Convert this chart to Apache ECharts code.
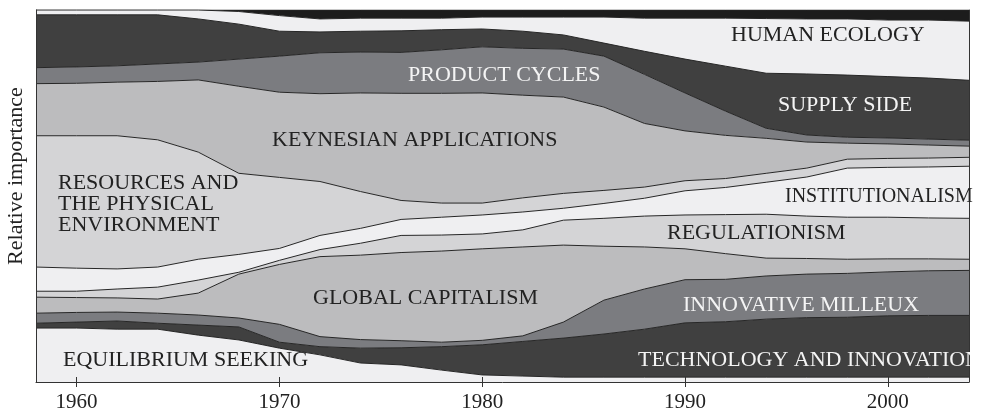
<!DOCTYPE html>
<html>
<head>
<meta charset="utf-8">
<title>Relative importance</title>
<script src="https://cdn.jsdelivr.net/npm/echarts@6/dist/echarts.min.js"></script>
<style>
  html, body { margin: 0; padding: 0; background: #fff; }
  #main { width: 991px; height: 413px; }
</style>
</head>
<body>
<div id="main"></div>
<script>
// 年份（横轴，每两年一个点）
const years = ['1958', '1960', '1962', '1964', '1966', '1968', '1970', '1972', '1974', '1976', '1978', '1980',
  '1982', '1984', '1986', '1988', '1990', '1992', '1994', '1996', '1998', '2000', '2002', '2004'];
const tickYears = ['1960', '1970', '1980', '1990', '2000'];

// 各层的相对重要性（%），自下而上
const equilibriumSeeking = [14.5, 14.5, 14.2, 14.2, 12.6, 11.3, 9.1, 7.3, 5.1, 4.6, 3.2, 1.9, 1.6, 1.3, 1.3, 1.3, 1.3, 1.3, 1.3, 1.3, 1.3, 1.3, 1.3, 1.3];
const technologyInnovation = [1.3, 1.6, 2.2, 1.6, 2.7, 3.5, 1.6, 2.2, 4.0, 4.6, 6.3, 8.1, 9.3, 10.5, 11.6, 12.9, 14.6, 14.9, 15.6, 16.0, 16.1, 16.5, 16.6, 16.6];
const innovativeMilieux = [2.7, 2.6, 2.4, 2.7, 2.7, 2.4, 4.8, 2.7, 2.3, 1.9, 1.2, 1.2, 1.5, 4.3, 9.1, 10.8, 11.6, 11.4, 11.6, 11.7, 11.8, 11.8, 12.0, 12.1];
const globalCapitalism = [4.3, 4.0, 3.8, 3.8, 5.9, 11.8, 16.1, 21.5, 22.7, 23.7, 24.5, 24.6, 23.9, 20.7, 14.5, 11.3, 8.3, 6.9, 4.8, 4.2, 3.8, 3.5, 3.2, 3.0];
const regulationism = [1.6, 1.7, 2.4, 3.2, 3.5, 0.5, 1.1, 1.9, 3.2, 4.6, 4.3, 4.0, 4.6, 6.7, 7.5, 8.3, 9.1, 10.5, 11.8, 11.4, 11.3, 11.2, 11.0, 11.0];
const institutionalism = [6.5, 6.2, 5.4, 5.4, 5.6, 4.8, 3.2, 3.8, 4.0, 4.3, 4.8, 5.1, 4.8, 3.2, 4.0, 4.8, 6.5, 7.3, 8.6, 10.5, 13.2, 13.4, 13.7, 14.0];
const resources = [35.3, 35.6, 35.8, 34.2, 28.8, 21.8, 19.1, 14.5, 9.9, 5.1, 3.8, 3.2, 3.8, 4.0, 3.5, 3.0, 2.7, 2.4, 2.4, 2.4, 2.4, 2.4, 2.4, 2.4];
const keynesian = [14.0, 14.1, 14.4, 15.7, 19.4, 23.4, 22.9, 23.6, 26.5, 28.8, 29.5, 29.6, 27.6, 25.9, 22.4, 17.1, 13.4, 11.6, 9.4, 7.0, 4.3, 3.9, 3.5, 3.0];
const productCycles = [4.3, 4.4, 4.4, 4.7, 4.8, 7.3, 9.7, 11.0, 11.0, 11.0, 11.7, 12.4, 12.6, 12.9, 13.7, 13.2, 10.2, 6.5, 2.7, 1.9, 1.6, 1.6, 1.6, 1.6];
const supplySide = [14.2, 14.0, 13.7, 13.2, 11.6, 9.4, 6.7, 5.6, 5.6, 5.8, 5.4, 4.8, 4.6, 3.8, 3.5, 6.2, 9.1, 12.1, 14.8, 16.4, 16.7, 16.5, 16.4, 16.1];
const humanEcology = [1.3, 1.3, 1.3, 1.3, 2.4, 3.4, 4.2, 3.5, 3.5, 3.4, 3.1, 3.2, 3.8, 4.8, 7.0, 8.9, 11.0, 12.9, 14.7, 14.8, 15.1, 15.2, 15.6, 15.9];
const topBand = [0, 0, 0, 0, 0, 0.4, 1.5, 2.4, 2.2, 2.2, 2.2, 1.9, 1.9, 1.9, 1.9, 2.2, 2.2, 2.2, 2.3, 2.4, 2.4, 2.7, 2.7, 3.0];

const DARK = '#404040';
const MID = '#7b7c80';
const LIGHTMID = '#bcbcbe';
const LIGHT = '#d4d4d6';
const PALE = '#efeff1';

// 图层（堆叠顺序自下而上）
const layers = [
  { name: 'EQUILIBRIUM SEEKING', data: equilibriumSeeking, color: PALE },
  { name: 'TECHNOLOGY AND INNOVATION', data: technologyInnovation, color: DARK },
  { name: 'INNOVATIVE MILLEUX', data: innovativeMilieux, color: MID },
  { name: 'GLOBAL CAPITALISM', data: globalCapitalism, color: LIGHTMID },
  { name: 'REGULATIONISM', data: regulationism, color: LIGHT },
  { name: 'INSTITUTIONALISM', data: institutionalism, color: PALE },
  { name: 'RESOURCES AND THE PHYSICAL ENVIRONMENT', data: resources, color: LIGHT },
  { name: 'KEYNESIAN APPLICATIONS', data: keynesian, color: LIGHTMID },
  { name: 'PRODUCT CYCLES', data: productCycles, color: MID },
  { name: 'SUPPLY SIDE', data: supplySide, color: DARK },
  { name: 'HUMAN ECOLOGY', data: humanEcology, color: PALE },
  { name: 'top', data: topBand, color: '#1c1c1c' }
];

// 图中文字标注（像素位置）
const areaLabels = [
  { text: 'HUMAN ECOLOGY', x: 731, y: 35, fill: '#222' },
  { text: 'PRODUCT CYCLES', x: 408, y: 75, fill: '#f4f4f4' },
  { text: 'SUPPLY SIDE', x: 778, y: 105, fill: '#f4f4f4' },
  { text: 'KEYNESIAN APPLICATIONS', x: 272, y: 140, fill: '#222' },
  { text: 'RESOURCES AND\nTHE PHYSICAL\nENVIRONMENT', x: 58, y: 204, fill: '#222' },
  { text: 'INSTITUTIONALISM', x: 785, y: 197, fill: '#222', size: 20 },
  { text: 'REGULATIONISM', x: 667, y: 233, fill: '#222' },
  { text: 'GLOBAL CAPITALISM', x: 313, y: 298, fill: '#222' },
  { text: 'INNOVATIVE MILLEUX', x: 683, y: 305, fill: '#f4f4f4' },
  { text: 'TECHNOLOGY AND INNOVATION', x: 638, y: 360, fill: '#f4f4f4' },
  { text: 'EQUILIBRIUM SEEKING', x: 63, y: 360, fill: '#222' }
];

const FONT = '"Liberation Serif", "Times New Roman", serif';
const isTickYear = (index, value) => tickYears.indexOf(value) !== -1;
const chart = echarts.init(document.getElementById('main'));

const seriesArr = layers.map((item, index) => {
  return {
    name: item.name,
    type: 'line',
    stack: 'total',
    symbol: 'none',
    smooth: false,
    z: 30 - index, // 下层的边线画在上层面积之上
    lineStyle: { width: 1, color: '#262626' },
    areaStyle: { color: item.color, opacity: 1 },
    emphasis: { disabled: true },
    data: item.data
  };
});

const axisLineStyle = { lineStyle: { color: '#333', width: 1 } };

// 文字标注
const labelGraphics = areaLabels.map(item => ({
  type: 'text',
  x: item.x,
  y: item.y,
  z: 100,
  silent: true,
  style: {
    text: item.text,
    fill: item.fill,
    fontSize: item.size || 22,
    fontFamily: FONT,
    lineHeight: 21,
    align: 'left',
    verticalAlign: 'middle'
  }
}));

const option = {
  animation: false,
  grid: { left: 36, right: 22, top: 10, bottom: 31, outerBoundsMode: 'none' },
  xAxis: [
    {
      type: 'category',
      data: years,
      boundaryGap: false,
      z: 40,
      splitLine: { show: false },
      axisLine: axisLineStyle,
      axisTick: { length: 5, interval: isTickYear, lineStyle: { color: '#333' } },
      axisLabel: {
        interval: isTickYear,
        margin: 10,
        color: '#222',
        fontSize: 21,
        fontFamily: FONT
      }
    },
    {
      type: 'category',
      data: years,
      boundaryGap: false,
      position: 'bottom',
      z: 40,
      splitLine: { show: false },
      axisLine: { show: false },
      axisTick: { inside: true, length: 5, interval: isTickYear, lineStyle: { color: '#333' } },
      axisLabel: { show: false }
    }
  ],
  yAxis: [
    {
      type: 'value',
      min: 0,
      max: 100,
      z: 40,
      splitLine: { show: false },
      axisTick: { show: false },
      axisLabel: { show: false },
      axisLine: { show: true, ...axisLineStyle }
    },
    {
      type: 'value',
      min: 0,
      max: 100,
      position: 'right',
      z: 40,
      splitLine: { show: false },
      axisTick: { show: false },
      axisLabel: { show: false },
      axisLine: { show: true, ...axisLineStyle }
    }
  ],
  series: seriesArr,
  graphic: labelGraphics.concat([
    // 纵轴标题
    {
      type: 'text',
      x: 16,
      y: 176,
      rotation: Math.PI / 2,
      silent: true,
      style: {
        text: 'Relative importance',
        fill: '#222',
        fontSize: 22,
        fontFamily: FONT,
        align: 'center',
        verticalAlign: 'middle'
      }
    },
    // 右侧超出部分遮住
    {
      type: 'rect',
      z: 101,
      silent: true,
      shape: { x: 970, y: 344, width: 21, height: 32 },
      style: { fill: '#fff' }
    }
  ])
};

chart.setOption(option);
</script>
</body>
</html>
